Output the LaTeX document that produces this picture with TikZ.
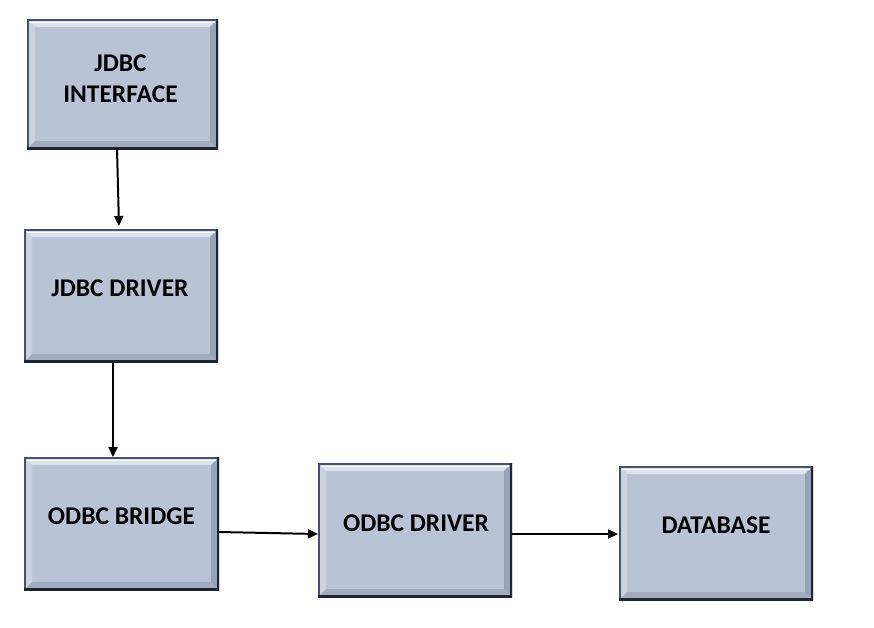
\documentclass[tikz,border=0pt]{standalone}
\usepackage{fontspec}
\setmainfont{Carlito}
\usetikzlibrary{arrows.meta}
\definecolor{face}{HTML}{B8C4D6}
\definecolor{bevtop}{HTML}{DCE2EB}
\definecolor{bevleft}{HTML}{CBD3E0}
\definecolor{bevright}{HTML}{97A3B6}
\definecolor{bevbot}{HTML}{A1ACBE}
\definecolor{edgec}{HTML}{44526C}
\definecolor{edgedark}{HTML}{1E2535}
\tikzset{
  bevbox/.style={rectangle, inner sep=0pt, outer sep=0pt, fill=face,
    path picture={
      \coordinate (nw) at (path picture bounding box.north west);
      \coordinate (ne) at (path picture bounding box.north east);
      \coordinate (sw) at (path picture bounding box.south west);
      \coordinate (se) at (path picture bounding box.south east);
      \fill[bevtop] (nw) -- (ne) -- ([shift={(-8pt,-8pt)}]ne) -- ([shift={(8pt,-8pt)}]nw) -- cycle;
      \fill[bevleft] (nw) -- (sw) -- ([shift={(8pt,8pt)}]sw) -- ([shift={(8pt,-8pt)}]nw) -- cycle;
      \fill[bevright] (ne) -- (se) -- ([shift={(-8pt,8pt)}]se) -- ([shift={(-8pt,-8pt)}]ne) -- cycle;
      \fill[bevbot] (sw) -- (se) -- ([shift={(-8pt,8pt)}]se) -- ([shift={(8pt,8pt)}]sw) -- cycle;
      \draw[white!90!bevtop, line width=1pt] ([shift={(3pt,-3pt)}]nw) -- ([shift={(-3pt,-3pt)}]ne);
      \draw[edgec, line width=3pt] (sw) -- (nw) -- (ne);
      \draw[edgedark, line width=4pt] (ne) -- (se) -- (sw);
    }},
  lbl/.style={font=\bfseries\fontsize{25.5}{31}\selectfont, text=black, align=center, inner sep=0pt},
  conn/.style={line width=2pt, draw=black, -{Triangle[length=10pt,width=9pt]}}
}
\begin{document}
\begin{tikzpicture}[x=1pt,y=-1pt]
\useasboundingbox (0,0) rectangle (874,627);
\fill[white] (0,0) rectangle (874,627);
\node[bevbox, minimum width=191pt, minimum height=130pt] (b1) at (122.5,84) {};
\node[bevbox, minimum width=194pt, minimum height=133pt] (b2) at (121,295.5) {};
\node[bevbox, minimum width=195pt, minimum height=133pt] (b3) at (121.5,523.5) {};
\node[bevbox, minimum width=194pt, minimum height=134pt] (b4) at (415,530) {};
\node[bevbox, minimum width=194pt, minimum height=134pt] (b5) at (716,533) {};
\node[lbl] (t1) at ([shift={(-2pt,5pt)}]b1.center) {JDBC\\INTERFACE};
\node[lbl] (t2) at ([shift={(-1pt,7pt)}]b2.center) {JDBC DRIVER};
\node[lbl] (t3) at ([shift={(0pt,7pt)}]b3.center) {ODBC BRIDGE};
\node[lbl] (t4) at ([shift={(1pt,7pt)}]b4.center) {ODBC DRIVER};
\node[lbl] (t5) at ([shift={(0pt,8pt)}]b5.center) {DATABASE};
\draw[conn] ([xshift=-5.5pt]b1.south) -- ([shift={(-2pt,3pt)}]b2.north);
\draw[conn] ([xshift=-8pt]b2.south) -- ([xshift=-8.5pt]b3.north);
\draw[conn] ([yshift=-8.5pt]b3.east) -- ([yshift=-4pt]b4.west);
\draw[conn] ([yshift=-4pt]b4.east) -- ([shift={(-1pt,-1pt)}]b5.west);
\end{tikzpicture}
\end{document}
